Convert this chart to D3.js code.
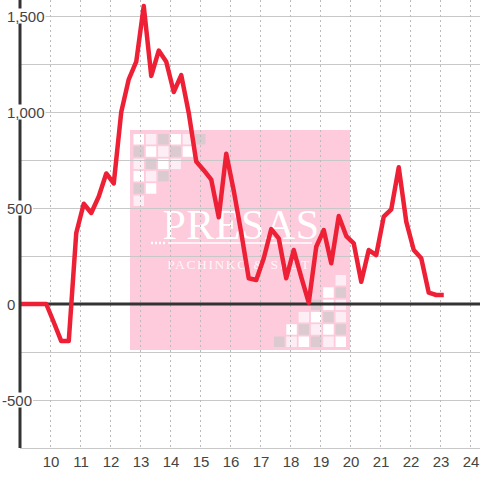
<!DOCTYPE html>
<html>
<head>
<meta charset="utf-8">
<script src="https://cdn.jsdelivr.net/npm/d3@7"></script>
<style>
  body { margin: 0; background: #fff; }
  svg { display: block; font-family: "Liberation Sans", Arial, sans-serif; }
</style>
</head>
<body>
<svg id="chart" width="480" height="480"></svg>
<script>
// Data (quarters, mid-quarter positions)
const quarters = [8.875, 9.125, 9.375, 9.625, 9.875, 10.125, 10.375, 10.625, 10.875,
  11.125, 11.375, 11.625, 11.875, 12.125, 12.375, 12.625, 12.875, 13.125, 13.375,
  13.625, 13.875, 14.125, 14.375, 14.625, 14.875, 15.125, 15.375, 15.625, 15.875,
  16.125, 16.375, 16.625, 16.875, 17.125, 17.375, 17.625, 17.875, 18.125, 18.375,
  18.625, 18.875, 19.125, 19.375, 19.625, 19.875, 20.125, 20.375, 20.625, 20.875,
  21.125, 21.375, 21.625, 21.875, 22.125, 22.375, 22.625, 22.875, 23.125];
const values = [0, 0, 0, 0, 0, -95, -193, -193, 370,
  522, 474, 560, 680, 628, 1000, 1170, 1262, 1552, 1188,
  1320, 1262, 1104, 1192, 995, 742, 697, 648, 452, 783,
  590, 370, 134, 125, 238, 390, 342, 134, 281, 140,
  7, 298, 385, 212, 458, 354, 316, 116, 281, 255,
  455, 493, 712, 429, 281, 238, 59, 47, 47];
const xTicks = [10, 11, 12, 13, 14, 15, 16, 17, 18, 19, 20, 21, 22, 23, 24];
const yGrid = [-750, -500, -250, 0, 250, 500, 750, 1000, 1250, 1500];
const yLabels = ["-500", "0", "500", "1,000", "1,500"];
const yLabelValues = [-500, 0, 500, 1000, 1500];

const width = 480, height = 480;
const left = 20, bottom = 448;

const svg = d3.select("#chart");

const x = d3.scaleLinear().domain([9, 24]).range([left, 470]);
const y = d3.scaleLinear().domain([-750, 0]).range([bottom, 304]);

// Watermark
const wm = svg.append("g");
wm.append("rect").attr("x", 130).attr("y", 130).attr("width", 220).attr("height", 220)
  .attr("fill", "#fdcbdb");
const W = "#ffffff", L = "#fdeef6", G = "#dbcbd1";
const topLeft = [
  [W, L, G, W, L, G],
  [G, W, L, G, W],
  [L, G, W, L],
  [W, L, G],
  [G, W],
  [L]
];
topLeft.forEach((row, r) => row.forEach((c, k) => {
  wm.append("rect").attr("x", 133.5 + k * 12.3).attr("y", 134 + r * 12.3)
    .attr("width", 10.5).attr("height", 10.5).attr("fill", c);
}));
const botRight = [
  [null, null, null, null, null, L],
  [null, null, null, null, W, G],
  [null, null, null, G, W, L],
  [null, null, L, W, G, L],
  [null, W, G, L, W, G],
  [G, L, W, G, L, W]
];
botRight.forEach((row, r) => row.forEach((c, k) => {
  if (!c) return;
  wm.append("rect").attr("x", 274 + k * 12.3).attr("y", 275 + r * 12.3)
    .attr("width", 10.5).attr("height", 10.5).attr("fill", c);
}));
wm.append("text").attr("x", 241).attr("y", 239).attr("text-anchor", "middle")
  .attr("font-family", "Liberation Serif, serif").attr("font-size", 42)
  .attr("letter-spacing", 0.5).attr("fill", "#fff").text("PRESAS");
wm.append("line").attr("x1", 168).attr("x2", 312).attr("y1", 243).attr("y2", 243)
  .attr("stroke", "#fff").attr("stroke-width", 1.5);
wm.append("line").attr("x1", 151).attr("x2", 166).attr("y1", 243).attr("y2", 243)
  .attr("stroke", "#fff").attr("stroke-width", 2.5).attr("stroke-dasharray", "2,2");
wm.append("text").attr("x", 239).attr("y", 269).attr("text-anchor", "middle")
  .attr("font-family", "Liberation Serif, serif").attr("font-size", 13.5)
  .attr("letter-spacing", 1.6).attr("fill", "#fff").attr("fill-opacity", 0.85)
  .text("PACHINKO & SLOT");

// Grid
svg.append("g").selectAll("line").data(yGrid).join("line")
  .attr("x1", left).attr("x2", width)
  .attr("y1", d => Math.round(y(d)) + 0.5).attr("y2", d => Math.round(y(d)) + 0.5)
  .attr("stroke", "#c8c8c8").attr("stroke-width", 1);
svg.append("g").selectAll("line").data(xTicks).join("line")
  .attr("x1", d => Math.round(x(d)) + 0.5).attr("x2", d => Math.round(x(d)) + 0.5)
  .attr("y1", 0).attr("y2", bottom)
  .attr("stroke", "#bbb").attr("stroke-width", 1).attr("stroke-dasharray", "2,3");

// Zero line
svg.append("line").attr("x1", left).attr("x2", width)
  .attr("y1", y(0)).attr("y2", y(0))
  .attr("stroke", "#333").attr("stroke-width", 3);

// Data line
svg.append("clipPath").attr("id", "clip").append("rect")
  .attr("x", left).attr("y", 0).attr("width", width - left).attr("height", bottom);
const line = d3.line().x((d, i) => x(quarters[i])).y(d => y(d));
svg.append("path").datum(values)
  .attr("clip-path", "url(#clip)")
  .attr("d", line)
  .attr("fill", "none").attr("stroke", "#ee2036").attr("stroke-width", 4.5)
  .attr("stroke-linejoin", "round");

// Y axis line
svg.append("line").attr("x1", left).attr("x2", left).attr("y1", 0).attr("y2", bottom)
  .attr("stroke", "#333").attr("stroke-width", 3);

// Y labels, left aligned; white background where they cross the axis
const yl = svg.append("g").selectAll("g").data(yLabelValues).join("g");
yl.append("text")
  .attr("x", d => d < 0 ? 2 : 7).attr("y", d => y(d) + 5.5)
  .attr("font-size", 15).attr("fill", "#444")
  .text((d, i) => yLabels[i])
  .each(function () {
    const b = this.getBBox();
    if (b.x + b.width < left - 2) return;
    d3.select(this.parentNode).insert("rect", "text")
      .attr("x", b.x - 1).attr("y", b.y + 1).attr("width", b.width + 2).attr("height", b.height - 2)
      .attr("fill", "#fff");
  });

// X labels
svg.append("g").selectAll("text").data(xTicks).join("text")
  .attr("x", d => x(d) + 1).attr("y", 467)
  .attr("text-anchor", "middle").attr("font-size", 15).attr("fill", "#444")
  .text(d => d);
</script>
</body>
</html>
